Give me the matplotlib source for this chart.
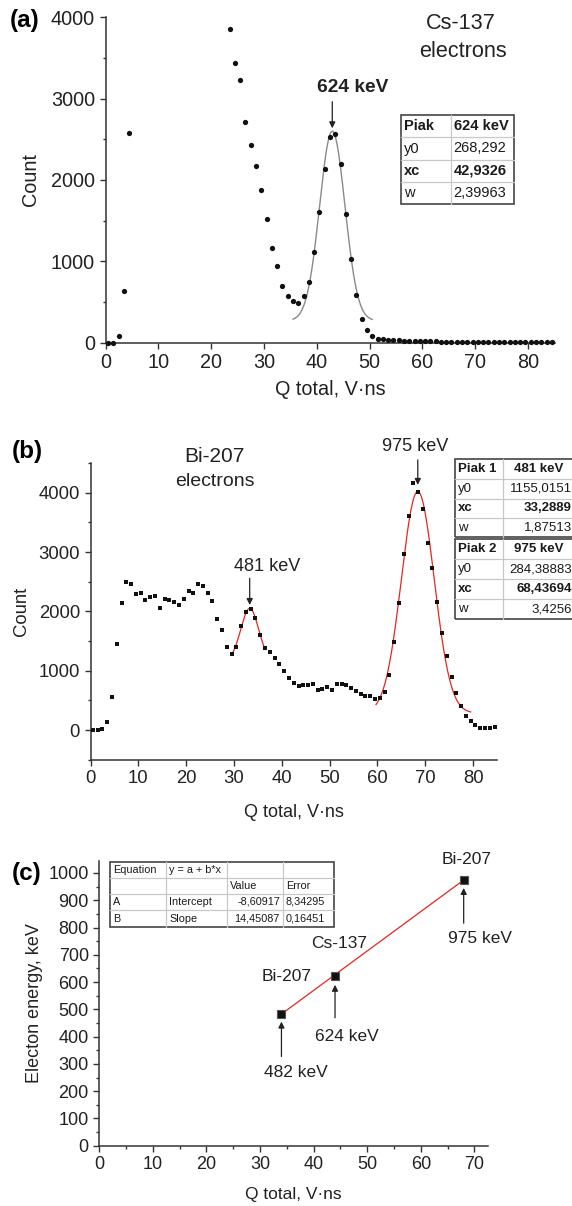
import numpy as np
import matplotlib
matplotlib.use("Agg")
import matplotlib.pyplot as plt
from matplotlib.lines import Line2D
from matplotlib.patches import Rectangle
from matplotlib.ticker import MultipleLocator

plt.rcParams["font.family"] = ["Liberation Sans", "DejaVu Sans"]

W, H = 572, 1206          # figure size in px (dpi 100)
XLABEL = "Q total, V·ns"

# ── (a) Cs-137: charge spectrum (bins above 4000 counts are off-scale) ──
q_a = [0.5, 1.5, 2.5, 3.5, 4.5,
       23.5, 24.5, 25.5, 26.5, 27.5, 28.5, 29.5, 30.5, 31.5, 32.5, 33.5, 34.5, 35.5, 36.5,
       37.5, 38.5, 39.5, 40.5, 41.5, 42.5, 43.5, 44.5, 45.5, 46.5, 47.5, 48.5, 49.5, 50.5,
       51.5, 52.5, 53.5, 54.5, 55.5, 56.5, 57.5, 58.5, 59.5, 60.5, 61.5, 62.5, 63.5, 64.5,
       65.5, 66.5, 67.5, 68.5, 69.5, 70.5, 71.5, 72.5, 73.5, 74.5, 75.5, 76.5, 77.5, 78.5,
       79.5, 80.5, 81.5, 82.5, 83.5, 84.5]
n_a = [0, 0, 74, 639, 2578,
       3852, 3443, 3230, 2717, 2434, 2168, 1877, 1516, 1168, 939, 701, 578, 512, 492,
       578, 742, 1111, 1602, 2135, 2529, 2561, 2193, 1582, 1033, 582, 291, 148, 74,
       45, 38, 32, 28, 25, 22, 20, 18, 17, 15, 14, 13, 12, 12,
       11, 10, 10, 9, 9, 8, 8, 7, 7, 7, 6, 6, 6, 5,
       5, 5, 5, 4, 4, 4]
# GaussAmp fit: y = y0 + A*exp(-(x-xc)^2 / (2 w^2))
Y0_A, XC_A, W_A, AMP_A = 268.292, 42.9326, 2.39963, 2330
FIT_A = (35.5, 50.5)
TAB_A = [["Piak", "624 keV"], ["y0", "268,292"], ["xc", "42,9326"], ["w", "2,39963"]]

# ── (b) Bi-207 ──
q_b = np.arange(0.5, 85, 1.0)
n_b = [0, 0, 11, 140, 562, 1444, 2140, 2494, 2455, 2292,
       2303, 2197, 2242, 2258, 2062, 2213, 2197, 2157, 2112, 2213,
       2348, 2303, 2455, 2433, 2303, 2180, 1871, 1680, 1404, 1275,
       1404, 1758, 1994, 2034, 1888, 1607, 1376, 1309, 1213, 1107,
       1000, 880, 785, 735, 765, 758, 773, 670, 690, 730,
       678, 778, 775, 755, 702, 663, 612, 567, 567, 525,
       542, 643, 927, 1487, 2136, 2974, 3603, 4159, 4019, 3727,
       3148, 2732, 2159, 1641, 1250, 899, 618, 408, 230, 155,
       90, 39, 39, 39, 50]
Y0_B1, XC_B1, W_B1, AMP_B1 = 1155.0151, 33.2889, 1.87513, 895
FIT_B1 = (29.5, 36.5)
Y0_B2, XC_B2, W_B2, AMP_B2 = 284.38883, 68.43694, 3.4256, 3735
FIT_B2 = (59.7, 79.5)
TAB_B1 = [["Piak 1", "481 keV"], ["y0", "1155,0151"], ["xc", "33,2889"], ["w", "1,87513"]]
TAB_B2 = [["Piak 2", "975 keV"], ["y0", "284,38883"], ["xc", "68,43694"], ["w", "3,4256"]]

# ── (c) calibration: peak position vs electron energy ──
q_c = [34.0, 44.0, 68.0]
e_c = [482, 624, 975]
src_c = ["Bi-207", "Cs-137", "Bi-207"]
INTERCEPT, SLOPE = -8.60917, 14.45087
TAB_C = [["Equation", "y = a + b*x", "", ""],
         ["", "", "Value", "Error"],
         ["A", "Intercept", "-8,60917", "8,34295"],
         ["B", "Slope", "14,45087", "0,16451"]]


def gauss_amp(x, y0, xc, w, amp):
    return y0 + amp * np.exp(-(x - xc) ** 2 / (2 * w ** 2))


def axes_px(fig, left, top, right, bottom):
    return fig.add_axes([left / W, 1 - bottom / H, (right - left) / W, (bottom - top) / H])


def style(ax, size):
    for s in ("top", "right"):
        ax.spines[s].set_visible(False)
    for s in ("left", "bottom"):
        ax.spines[s].set_color("#333")
        ax.spines[s].set_linewidth(1.1)
    ax.tick_params(which="both", direction="out", colors="#333", labelcolor="#222",
                   labelsize=size, width=1.0)
    ax.tick_params(which="major", length=4)
    ax.tick_params(which="minor", length=2.5)


def draw_table(fig, xs, ys, rows, aligns, size, bold_rows=()):
    """Origin-style parameter box; xs/ys are cell edges in px from the top-left."""
    tf = fig.transFigure
    for y in ys[1:-1]:
        fig.add_artist(Line2D([xs[0] / W, xs[-1] / W], [1 - y / H] * 2, transform=tf,
                              color="#c8c8c8", lw=0.9))
    for x in xs[1:-1]:
        fig.add_artist(Line2D([x / W] * 2, [1 - ys[0] / H, 1 - ys[-1] / H], transform=tf,
                              color="#c8c8c8", lw=0.9))
    fig.add_artist(Rectangle((xs[0] / W, 1 - ys[-1] / H), (xs[-1] - xs[0]) / W,
                             (ys[-1] - ys[0]) / H, transform=tf, fill=False,
                             ec="#444", lw=1.2))
    for i, row in enumerate(rows):
        yc = 1 - (ys[i] + ys[i + 1]) / 2 / H
        for j, txt in enumerate(row):
            a = aligns[i][j]
            if a == "l":
                x, ha = xs[j] + 3, "left"
            elif a == "r":
                x, ha = xs[j + 1] - 3, "right"
            else:
                x, ha = (xs[j] + xs[j + 1]) / 2, "center"
            fig.text(x / W, yc, txt, ha=ha, va="center", fontsize=size, color="#1a1a1a",
                     fontweight="bold" if i in bold_rows else "normal")


arrow = dict(arrowstyle="-|>", color="#222", lw=0.9, mutation_scale=9, shrinkA=0, shrinkB=0)

fig = plt.figure(figsize=(W / 100, H / 100), dpi=100)

# ── panel (a) ──
ax = axes_px(fig, 105.5, 17.3, 554.5, 342.5)
xf = np.linspace(*FIT_A, 200)
ax.plot(xf, gauss_amp(xf, Y0_A, XC_A, W_A, AMP_A), color="#8a8a8a", lw=1.0, zorder=2)
ax.plot(q_a, n_a, "o", color="#111", ms=3.8, mew=0, zorder=3, clip_on=False)
ax.set_xlim(0, 85)
ax.set_ylim(0, 4000)
ax.xaxis.set_major_locator(MultipleLocator(10))
ax.yaxis.set_major_locator(MultipleLocator(1000))
ax.yaxis.set_minor_locator(MultipleLocator(500))
style(ax, 14.3)
ax.set_xlabel(XLABEL, fontsize=14.3, color="#222", labelpad=6)
ax.set_ylabel("Count", fontsize=14.3, color="#222", labelpad=8)
ax.text(46.8, 3140, "624 keV", ha="center", va="center", fontsize=13.8,
        fontweight="bold", color="#222")
ax.annotate("", xy=(XC_A, 2635), xytext=(XC_A, 2962), arrowprops=arrow)
ax.text(67.3, 3925, "Cs-137", ha="center", va="center", fontsize=15.6, color="#222")
ax.text(67.6, 3577, "electrons", ha="center", va="center", fontsize=15.6, color="#222")
fig.text(24.6 / W, 1 - 21 / H, "(a)", ha="center", va="center", fontsize=17.5,
         fontweight="bold")
draw_table(fig, [401, 450.6, 514], [115, 137.3, 159.7, 181.7, 204], TAB_A,
           [["l", "l"]] * 4, 10.5, bold_rows=(0, 2))

# ── panel (b) ──
ax = axes_px(fig, 90.5, 463, 497, 759.7)
for (lo, hi), p in ((FIT_B1, (Y0_B1, XC_B1, W_B1, AMP_B1)),
                    (FIT_B2, (Y0_B2, XC_B2, W_B2, AMP_B2))):
    xf = np.linspace(lo, hi, 200)
    ax.plot(xf, gauss_amp(xf, *p), color="#e8261c", lw=0.9, zorder=2)
ax.plot(q_b, n_b, "s", color="#111", ms=3.5, mew=0, zorder=3)
ax.set_xlim(0, 85)
ax.set_ylim(-500, 4500)
ax.xaxis.set_major_locator(MultipleLocator(10))
ax.yaxis.set_major_locator(MultipleLocator(1000))
ax.yaxis.set_minor_locator(MultipleLocator(500))
style(ax, 13.3)
ax.set_yticks([0, 1000, 2000, 3000, 4000])
ax.set_xlabel(XLABEL, fontsize=13, color="#222", labelpad=12)
ax.set_ylabel("Count", fontsize=13.3, color="#222", labelpad=6)
ax.text(26.0, 4610, "Bi-207", ha="center", va="center", fontsize=15, color="#222")
ax.text(26.0, 4187, "electrons", ha="center", va="center", fontsize=14, color="#222")
ax.text(37.0, 2754, "481 keV", ha="center", va="center", fontsize=13.1, color="#222")
ax.annotate("", xy=(XC_B1, 2108), xytext=(XC_B1, 2558), arrowprops=arrow)
ax.text(67.9, 4777, "975 keV", ha="center", va="center", fontsize=13.1, color="#222")
ax.annotate("", xy=(XC_B2, 4131), xytext=(XC_B2, 4553), arrowprops=arrow)
fig.text(27 / W, 1 - 451.7 / H, "(b)", ha="center", va="center", fontsize=17.5,
         fontweight="bold")
b_align = [["l", "c"], ["l", "r"], ["l", "r"], ["l", "r"]]
draw_table(fig, [455, 502.7, 575], [459.3, 479, 498.7, 518, 537.3], TAB_B1,
           b_align, 9.5, bold_rows=(0, 2))
draw_table(fig, [455, 502.7, 575], [539.3, 559.3, 579.3, 599.3, 619.3], TAB_B2,
           b_align, 9.5, bold_rows=(0, 2))

# ── panel (c) ──
ax = axes_px(fig, 99.2, 860.7, 487.8, 1145.7)
xl = np.array([q_c[0], q_c[-1]])
ax.plot(xl, INTERCEPT + SLOPE * xl, color="#e8261c", lw=0.9, zorder=2)
ax.plot(q_c, e_c, "s", color="#111", mec="#555", mew=0.8, ms=5.5, zorder=3)
ax.set_xlim(0, 72.5)
ax.set_ylim(0, 1045)
ax.xaxis.set_major_locator(MultipleLocator(10))
ax.xaxis.set_minor_locator(MultipleLocator(5))
ax.yaxis.set_major_locator(MultipleLocator(100))
ax.yaxis.set_minor_locator(MultipleLocator(50))
style(ax, 13)
ax.set_xlabel(XLABEL, fontsize=12.5, color="#222", labelpad=10)
ax.set_ylabel("Electon energy, keV", fontsize=13, color="#222", labelpad=4)
# source name above each point, energy label below with an arrow up to it
name_pos = [(35.0, 620), (44.7, 743), (68.6, 1049)]
label_pos = [(36.6, 268), (46.2, 400), (71.0, 761)]
arrow_span = [(327, 455), (469, 590), (816, 945)]
for q, e, src, (nx, ny), (lx, ly), (a0, a1) in zip(q_c, e_c, src_c, name_pos,
                                                    label_pos, arrow_span):
    ax.text(nx, ny, src, ha="center", va="center", fontsize=12.5, color="#222")
    ax.text(lx, ly, f"{e} keV", ha="center", va="center", fontsize=12.5, color="#222")
    ax.annotate("", xy=(q, a1), xytext=(q, a0), arrowprops=arrow)
fig.text(26.3 / W, 1 - 873.3 / H, "(c)", ha="center", va="center", fontsize=17.5,
         fontweight="bold")
draw_table(fig, [110, 166, 227, 283, 334], [861.7, 877.7, 894, 910, 927], TAB_C,
           [["l", "l", "l", "l"], ["l", "l", "l", "l"],
            ["l", "l", "r", "l"], ["l", "l", "r", "l"]], 7.8)

fig.savefig("out.png", dpi=100)
